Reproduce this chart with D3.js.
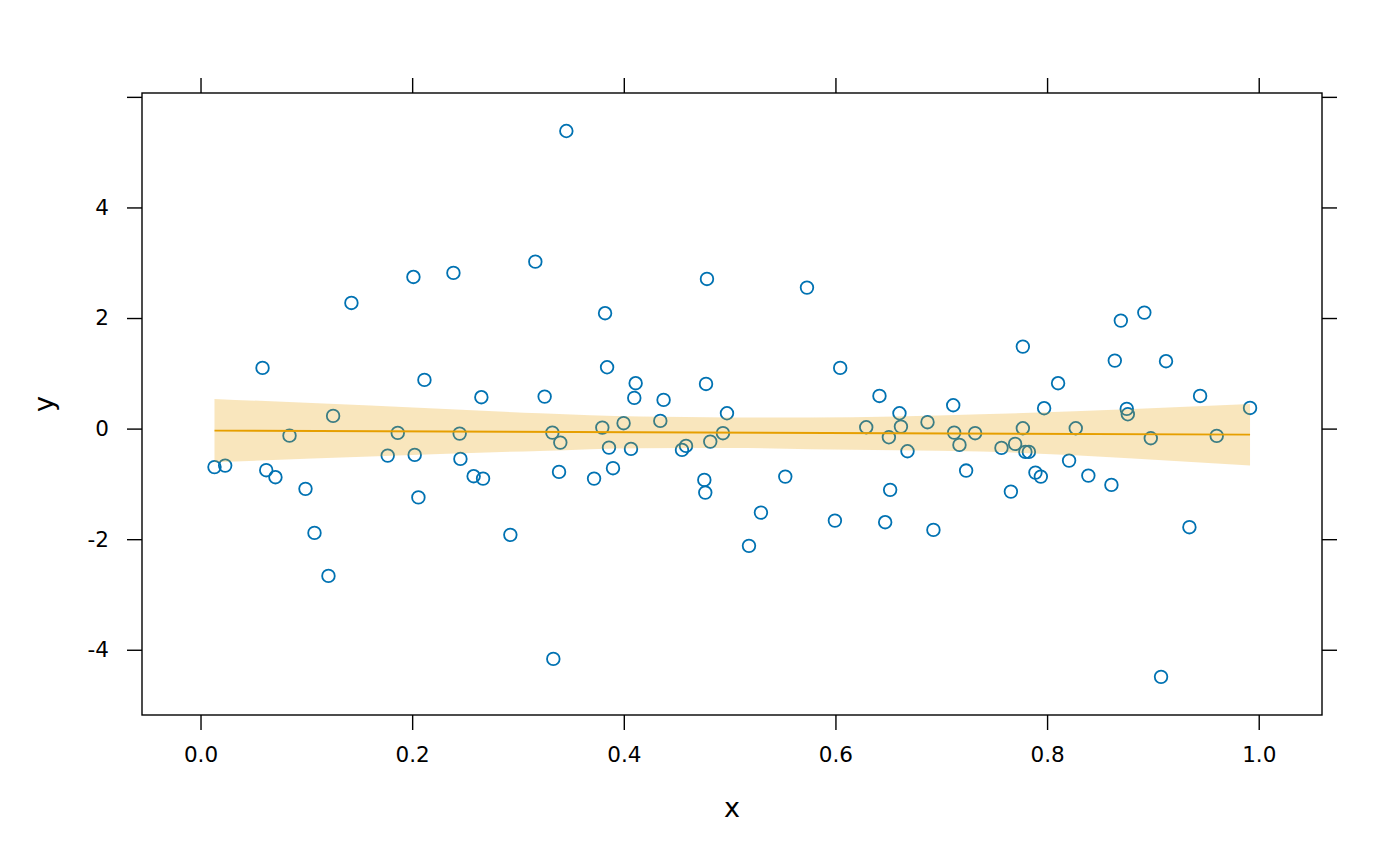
<!DOCTYPE html>
<html>
<head>
<meta charset="utf-8">
<script src="https://cdn.jsdelivr.net/npm/d3@7"></script>
<style>
  body { margin: 0; background: #fff; }
  svg { font-family: "DejaVu Sans", sans-serif; }
</style>
</head>
<body>
<div id="chart"></div>
<script>
// scatter points
var xs = [0.0132, 0.0233, 0.0586, 0.0621, 0.0708, 0.0841, 0.0992, 0.1077, 0.1209, 0.1253,
  0.1426, 0.1769, 0.1864, 0.2012, 0.2024, 0.2059, 0.2116, 0.2390, 0.2449, 0.2456,
  0.2581, 0.2654, 0.2670, 0.2928, 0.3164, 0.3252, 0.3325, 0.3334, 0.3388, 0.3400,
  0.3457, 0.3719, 0.3797, 0.3823, 0.3842, 0.3860, 0.3898, 0.3998, 0.4068, 0.4099,
  0.4112, 0.4345, 0.4376, 0.4550, 0.4588, 0.4761, 0.4777, 0.4770, 0.4786, 0.4817,
  0.4937, 0.4975, 0.5183, 0.5296, 0.5526, 0.5731, 0.5995, 0.6045, 0.6291, 0.6416,
  0.6470, 0.6505, 0.6517, 0.6605, 0.6619, 0.6681, 0.6870, 0.6926, 0.7113, 0.7122,
  0.7172, 0.7235, 0.7320, 0.7569, 0.7658, 0.7698, 0.7771, 0.7771, 0.7795, 0.7828,
  0.7890, 0.7941, 0.7972, 0.8104, 0.8208, 0.8271, 0.8390, 0.8608, 0.8640, 0.8697,
  0.8753, 0.8763, 0.8919, 0.8980, 0.9077, 0.9124, 0.9345, 0.9446, 0.9603, 0.9918];
var ys = [-0.696, -0.669, 1.098, -0.752, -0.879, -0.127, -1.090, -1.886, -2.664, 0.230,
  2.273, -0.488, -0.078, 2.743, -0.476, -1.244, 0.881, 2.816, -0.090, -0.548,
  -0.861, 0.568, -0.904, -1.922, 3.020, 0.579, -0.072, -4.165, -0.783, -0.253,
  5.383, -0.904, 0.018, 2.087, 1.110, -0.344, -0.716, 0.098, -0.367, 0.555,
  0.821, 0.139, 0.519, -0.385, -0.313, -0.928, 0.808, -1.157, 2.707, -0.235,
  -0.083, 0.278, -2.121, -1.519, -0.868, 2.550, -1.664, 1.098, 0.025, 0.591,
  -1.693, -0.156, -1.108, 0.278, 0.036, -0.409, 0.116, -1.832, 0.423, -0.072,
  -0.295, -0.759, -0.083, -0.349, -1.139, -0.277, 1.483, 0.007, -0.421, -0.421,
  -0.796, -0.868, 0.369, 0.821, -0.579, 0.007, -0.850, -1.018, 1.230, 1.953,
  0.356, 0.260, 2.098, -0.174, -4.490, 1.219, -1.783, 0.591, -0.132, 0.374];

// fitted line and its confidence band
var fitX = [0.0132, 0.9918];
var fitY = [-0.036, -0.108];
var bandX = [0.0132, 0.1606, 0.321, 0.4156, 0.5006, 0.576, 0.737, 0.9918];
var bandUpper = [0.537, 0.416, 0.278, 0.217, 0.203, 0.199, 0.260, 0.447];
var bandLower = [-0.608, -0.506, -0.403, -0.354, -0.349, -0.372, -0.416, -0.669];

var xTicks = [0, 0.2, 0.4, 0.6, 0.8, 1.0];
var xTickLabels = ["0.0", "0.2", "0.4", "0.6", "0.8", "1.0"];
var yTicks = [-4, -2, 0, 2, 4, 6];
var yTickLabels = ["-4", "-2", "0", "2", "4", ""];

var svgWidth = 1400;
var svgHeight = 866;

var margin = {
  top: 93,
  right: 78,
  left: 142,
  bottom: 151
};

var width = svgWidth - margin.left - margin.right;
var height = svgHeight - margin.top - margin.bottom;

var svg = d3.select("#chart")
  .append("svg")
  .attr("width", svgWidth)
  .attr("height", svgHeight);

var chartGroup = svg.append("g")
  .attr("transform", `translate(${margin.left}, ${margin.top})`);

var x = d3.scaleLinear()
  .domain([-0.0553, 1.0598])
  .range([0, width]);

var y = d3.scaleLinear()
  .domain([-5.18, 6.07])
  .range([height, 0]);

var points = xs.map((d, i) => ({ x: d, y: ys[i] }));

// points first, band goes on top of them
chartGroup.selectAll("circle")
  .data(points)
  .enter()
  .append("circle")
  .attr("cx", d => x(d.x))
  .attr("cy", d => y(d.y))
  .attr("r", 6.3)
  .attr("fill", "none")
  .attr("stroke", "#0072B2")
  .attr("stroke-width", 1.8);

var band = bandX.map((d, i) => ({ x: d, lo: bandLower[i], hi: bandUpper[i] }));

var area = d3.area()
  .curve(d3.curveMonotoneX)
  .x(d => x(d.x))
  .y0(d => y(d.lo))
  .y1(d => y(d.hi));

chartGroup.append("path")
  .datum(band)
  .attr("d", area)
  .attr("fill", "#E69F00")
  .attr("fill-opacity", 0.26);

var line = d3.line()
  .x(d => x(d[0]))
  .y(d => y(d[1]));

chartGroup.append("path")
  .datum(fitX.map((d, i) => [d, fitY[i]]))
  .attr("d", line)
  .attr("fill", "none")
  .attr("stroke", "#E69F00")
  .attr("stroke-width", 1.9);

// axes on all four sides, labels only bottom and left
function styleAxis(g) {
  g.select(".domain").remove();
  g.selectAll(".tick line").attr("stroke", "#000").attr("stroke-width", 1.4);
  g.selectAll(".tick text")
    .attr("fill", "#000")
    .style("font-size", "21.5px")
    .style("font-family", "DejaVu Sans");
}

chartGroup.append("g")
  .attr("transform", `translate(0, ${height})`)
  .call(d3.axisBottom(x).tickValues(xTicks).tickSize(15).tickPadding(17)
    .tickFormat((d, i) => xTickLabels[i]))
  .call(styleAxis);

chartGroup.append("g")
  .call(d3.axisTop(x).tickValues(xTicks).tickSize(15).tickFormat(""))
  .call(styleAxis);

chartGroup.append("g")
  .call(d3.axisLeft(y).tickValues(yTicks).tickSize(15).tickPadding(18)
    .tickFormat((d, i) => yTickLabels[i]))
  .call(styleAxis);

chartGroup.append("g")
  .attr("transform", `translate(${width}, 0)`)
  .call(d3.axisRight(y).tickValues(yTicks).tickSize(15).tickFormat(""))
  .call(styleAxis);

chartGroup.append("rect")
  .attr("x", 0)
  .attr("y", 0)
  .attr("width", width)
  .attr("height", height)
  .attr("fill", "none")
  .attr("stroke", "#000")
  .attr("stroke-width", 1.4);

// axis titles
chartGroup.append("text")
  .attr("x", width / 2)
  .attr("y", height + 102)
  .attr("text-anchor", "middle")
  .style("font-size", "27px")
  .text("x");

chartGroup.append("text")
  .attr("transform", "rotate(-90)")
  .attr("x", -height / 2)
  .attr("y", 53 - margin.left)
  .attr("text-anchor", "middle")
  .style("font-size", "27px")
  .text("y");
</script>
</body>
</html>
